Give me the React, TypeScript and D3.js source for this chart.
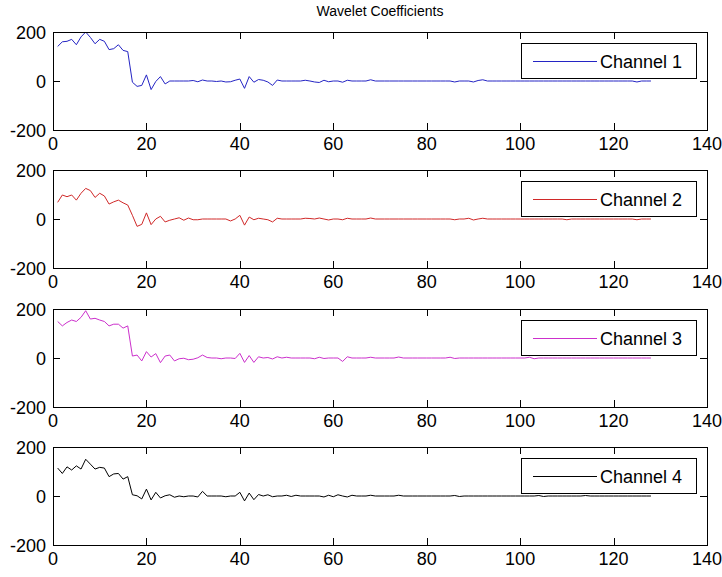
import React, { useRef, useEffect } from 'react';
import * as d3 from 'd3';

const xTicks = [0, 20, 40, 60, 80, 100, 120, 140];
const yTicks = [-200, 0, 200];
const channelNames = ['Channel 1', 'Channel 2', 'Channel 3', 'Channel 4'];
const channelColors = ['#2424c4', '#d02828', '#cc30cc', '#000000'];

// coefficient index 1..128
const ch1 = [
  141, 160, 162, 170, 148, 180, 200, 178, 152, 170,
  162, 128, 132, 148, 125, 120, -5, -22, -18, 25,
  -35, -2, 18, -12, 0, 0, 0, 0, 0, 2,
  -3, 4, 0, 0, -2, 0, -4, -3, 3, 8,
  -30, 18, -5, 6, 3, -4, -18, 4, 0, 0,
  0, 0, 0, 3, 0, -4, -6, 3, -3, 0,
  0, -5, 3, 0, 0, 0, 0, 5, 0, 0,
  0, 0, 0, 0, 0, 0, 0, 0, 0, 0,
  0, 0, 0, 0, 0, -4, 0, 0, 0, -4,
  2, 5, 0, 0, 0, 0, 0, 0, 0, 0,
  0, 0, 0, 0, 0, 0, 0, 0, 0, 0,
  0, 0, 0, 0, 0, 0, 0, 0, 0, 0,
  0, 0, 0, 0, -4, 0, 0, 0,
];
const ch2 = [
  68, 98, 91, 98, 77, 105, 125, 116, 88, 105,
  94, 61, 70, 77, 66, 57, 15, -30, -22, 25,
  -23, 0, 11, -12, -5, 0, 5, -5, 4, -3,
  -3, 0, 0, 0, 0, 0, 0, -8, 0, 15,
  -25, 8, -3, 3, 0, -3, -12, 3, 0, 0,
  0, 0, 0, 3, 2, 0, 4, 0, -4, 0,
  0, -3, 3, 0, 0, 0, 0, 4, 0, 0,
  0, 0, 0, 0, 0, 0, 0, 0, 0, 0,
  0, 0, 0, 0, 0, -3, 0, 0, 3, -4,
  0, 3, 0, 0, 0, 0, 0, 0, 0, 0,
  0, 0, 0, 0, 0, 0, 0, 0, 0, -3,
  0, 0, 0, 0, 0, 0, 0, 0, 0, 0,
  0, 0, 0, 0, -3, 0, 0, 0,
];
const ch3 = [
  149, 131, 145, 155, 149, 166, 193, 159, 162, 155,
  149, 131, 138, 138, 122, 131, 8, 12, -12, 26,
  4, 18, -19, 8, 12, -12, -3, -1, -7, -5,
  1, 12, 2, 0, 0, -3, 0, 0, -2, 19,
  -18, 10, -18, 5, 0, 2, -4, 5, 0, 3,
  0, 0, 0, 0, 0, -3, 3, -2, 0, 0,
  0, -14, 5, 0, 0, 0, 0, 3, 0, 0,
  0, 0, 0, 4, 0, 0, 0, 0, 0, 0,
  0, 0, 0, 0, 3, -2, 0, 0, 0, 0,
  0, 0, 0, 0, 0, 0, 0, 0, 0, 0,
  0, 3, -3, 0, 0, 0, 0, 0, 0, 0,
  0, 0, 0, 0, 0, 0, 0, 0, 0, 0,
  0, 0, 0, 0, 0, 0, 0, 0,
];
const ch4 = [
  114, 92, 119, 106, 123, 110, 150, 130, 110, 117,
  114, 79, 90, 92, 69, 79, 5, 1, -12, 28,
  -16, 15, -8, 1, 5, -5, 0, -3, 0, 0,
  -4, 19, 0, 0, 0, 0, -3, 0, 0, 15,
  -20, 12, -15, 6, 0, 5, -3, 0, 0, 3,
  -2, 3, 0, 0, 0, 0, 0, -4, 3, -3,
  5, 0, -4, 3, 0, 0, 0, 3, 0, 0,
  0, 0, 0, 3, 0, 0, 0, 0, 0, 0,
  0, 0, 0, 0, 0, 2, -2, 0, 0, 0,
  0, 0, 0, 0, 0, 0, 0, 0, 0, 0,
  0, 0, 0, 2, -2, 0, 0, 0, 0, 0,
  0, 0, 0, 2, 0, 0, 0, 0, 0, 0,
  0, 0, 0, 0, 0, 0, 0, 0,
];
const series = [ch1, ch2, ch3, ch4];

const width = 722;
const height = 577;
const left = 53;
const right = 707;
const firstTop = 32;
const panelStep = 138.4;
const panelHeight = 98;
const tickLen = 7;
const font = '"Liberation Sans", Arial, sans-serif';

const App = () => {
  const svgRef = useRef(null);

  useEffect(() => {
    const svg = d3.select(svgRef.current);
    svg.selectAll('*').remove();

    const x = d3.scaleLinear().domain([0, 140]).range([left, right]);

    svg.append('rect')
      .attr('width', width)
      .attr('height', height)
      .attr('fill', '#fff');

    svg.append('text')
      .attr('x', (left + right) / 2)
      .attr('y', 16)
      .attr('text-anchor', 'middle')
      .style('font-family', font)
      .style('font-size', '14px')
      .text('Wavelet Coefficients');

    series.forEach((vals, i) => {
      const top = Math.round(firstTop + i * panelStep);
      const bottom = top + panelHeight;
      const y = d3.scaleLinear().domain([-200, 200]).range([bottom, top]);
      const g = svg.append('g');

      const line = d3.line<number>()
        .x((d, j) => x(j + 1))
        .y(d => y(d));

      g.append('path')
        .datum(vals)
        .attr('d', line)
        .attr('fill', 'none')
        .attr('stroke', channelColors[i])
        .attr('stroke-width', 1);

      // axes box
      g.append('rect')
        .attr('x', left + 0.5)
        .attr('y', top + 0.5)
        .attr('width', right - left)
        .attr('height', panelHeight)
        .attr('fill', 'none')
        .attr('stroke', '#000')
        .attr('shape-rendering', 'crispEdges');

      // x ticks, inward on bottom and top
      xTicks.forEach(t => {
        const px = Math.round(x(t)) + 0.5;
        g.append('line')
          .attr('x1', px).attr('x2', px)
          .attr('y1', bottom).attr('y2', bottom - tickLen)
          .attr('stroke', '#000').attr('shape-rendering', 'crispEdges');
        g.append('line')
          .attr('x1', px).attr('x2', px)
          .attr('y1', top).attr('y2', top + tickLen)
          .attr('stroke', '#000').attr('shape-rendering', 'crispEdges');
        g.append('text')
          .attr('x', x(t))
          .attr('y', bottom + 20)
          .attr('text-anchor', 'middle')
          .style('font-family', font)
          .style('font-size', '18px')
          .text(t);
      });

      // y ticks, inward on left and right
      yTicks.forEach(t => {
        const py = Math.round(y(t)) + 0.5;
        g.append('line')
          .attr('x1', left).attr('x2', left + tickLen)
          .attr('y1', py).attr('y2', py)
          .attr('stroke', '#000').attr('shape-rendering', 'crispEdges');
        g.append('line')
          .attr('x1', right).attr('x2', right - tickLen)
          .attr('y1', py).attr('y2', py)
          .attr('stroke', '#000').attr('shape-rendering', 'crispEdges');
        g.append('text')
          .attr('x', left - 7)
          .attr('y', y(t) + 6.5)
          .attr('text-anchor', 'end')
          .style('font-family', font)
          .style('font-size', '18px')
          .text(t);
      });

      // legend
      const lx = 521;
      const ly = top + 11;
      g.append('rect')
        .attr('x', lx + 0.5)
        .attr('y', ly + 0.5)
        .attr('width', 175)
        .attr('height', 35)
        .attr('fill', '#fff')
        .attr('stroke', '#000')
        .attr('shape-rendering', 'crispEdges');
      g.append('line')
        .attr('x1', lx + 12).attr('x2', lx + 76)
        .attr('y1', ly + 18.5).attr('y2', ly + 18.5)
        .attr('stroke', channelColors[i]);
      g.append('text')
        .attr('x', lx + 79)
        .attr('y', ly + 24.5)
        .style('font-family', font)
        .style('font-size', '18px')
        .text(channelNames[i]);
    });
  }, []);

  return (
    <svg
      ref={svgRef}
      width={width}
      height={height}
      style={{ position: 'absolute', left: 0, top: 0, display: 'block' }}
    ></svg>
  );
};

export default App;
